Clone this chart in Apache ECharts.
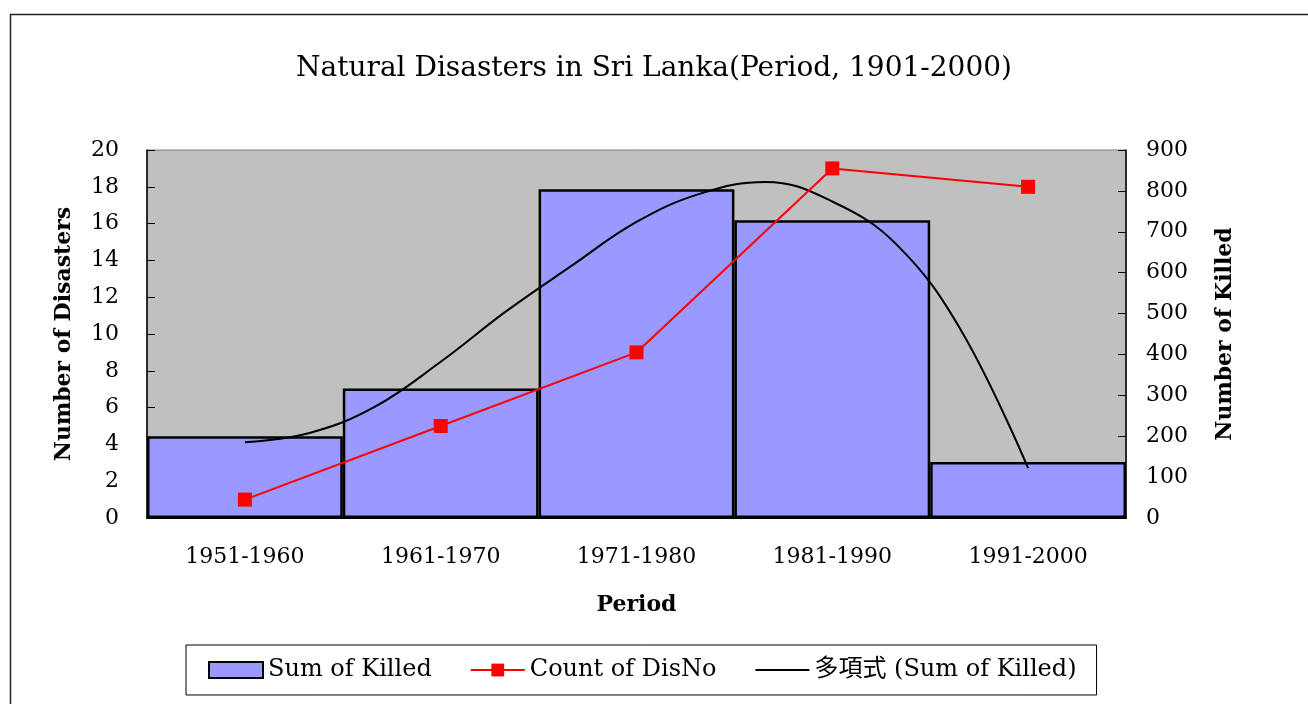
<!DOCTYPE html>
<html>
<head>
<meta charset="utf-8">
<script src="https://cdn.jsdelivr.net/npm/echarts@6/dist/echarts.min.js"></script>
<style>
  html, body { margin: 0; padding: 0; background: #fff; }
  #main { width: 1308px; height: 704px; }
</style>
</head>
<body>
<div id="main"></div>
<script>
// periods on the x axis
var periods = ['1951-1960', '1961-1970', '1971-1980', '1981-1990', '1991-2000'];
// Sum of Killed (right axis)
var killed = [200, 317, 804, 728, 137];
// Count of DisNo (left axis)
var disCount = [1, 5, 9, 19, 18];
// polynomial trend line: x in category units, y = killed
var trendX = [1.0, 1.33, 1.66, 2.0, 2.33, 2.66, 3.0, 3.33, 3.66, 4.0, 4.33, 4.66, 5.0];
var trendY = [185, 208, 271, 382, 504, 614, 724, 794, 822, 774, 668, 457, 122];

var serif = '"DejaVu Serif", "Noto Sans CJK TC", serif';
var trendData = trendX.map(function (x, i) { return [x, trendY[i]]; });

var chart = echarts.init(document.getElementById('main'));

var option = {
  backgroundColor: '#fff',
  animation: false,
  textStyle: { fontFamily: serif, color: '#000' },
  title: {
    text: 'Natural Disasters in Sri Lanka(Period, 1901-2000)',
    left: 'center',
    top: 50,
    textStyle: { fontFamily: serif, fontSize: 28, fontWeight: 'normal', color: '#000' }
  },
  graphic: [{
    type: 'rect',
    shape: { x: 10.5, y: 14.5, width: 1400, height: 800 },
    style: { fill: 'none', stroke: '#222', lineWidth: 1.5 },
    silent: true
  }],
  legend: {
    left: 186,
    top: 645,
    padding: [13, 20, 13, 22],
    itemGap: 38,
    itemWidth: 54,
    itemHeight: 16,
    borderColor: '#000',
    borderWidth: 1,
    textStyle: { fontFamily: serif, fontSize: 24, color: '#000' },
    data: [
      { name: 'Sum of Killed', icon: 'rect' },
      'Count of DisNo',
      { name: '多項式 (Sum of Killed)', itemStyle: { opacity: 0 } }
    ]
  },
  grid: {
    left: 147,
    right: 182,
    top: 150,
    bottom: 186,
    show: true,
    backgroundColor: '#c0c0c0',
    borderColor: '#808080',
    borderWidth: 1
  },
  xAxis: [{
    type: 'category',
    data: periods,
    boundaryGap: true,
    axisLine: { lineStyle: { color: '#000', width: 2 } },
    axisTick: { show: false },
    axisLabel: { fontFamily: serif, fontSize: 22, color: '#000', margin: 28 },
    name: 'Period',
    nameLocation: 'middle',
    nameGap: 76,
    nameTextStyle: { fontFamily: serif, fontSize: 22, fontWeight: 'bold', color: '#000' }
  }, {
    type: 'value',
    min: 0.5,
    max: 5.5,
    show: false
  }],
  yAxis: [{
    type: 'value',
    min: 0,
    max: 20,
    interval: 2,
    axisLine: { show: true, lineStyle: { color: '#000', width: 1.5 } },
    axisTick: { show: true, inside: true, length: 8, lineStyle: { color: '#000' } },
    splitLine: { show: false },
    axisLabel: { fontFamily: serif, fontSize: 22, color: '#000', margin: 28 },
    name: 'Number of Disasters',
    nameLocation: 'middle',
    nameGap: 72,
    nameTextStyle: { fontFamily: serif, fontSize: 22, fontWeight: 'bold', color: '#000' }
  }, {
    type: 'value',
    min: 0,
    max: 900,
    interval: 100,
    position: 'right',
    axisLine: { show: true, lineStyle: { color: '#000', width: 1.5 } },
    axisTick: { show: true, inside: true, length: 8, lineStyle: { color: '#000' } },
    splitLine: { show: false },
    axisLabel: { fontFamily: serif, fontSize: 22, color: '#000', margin: 20 },
    name: 'Number of Killed',
    nameLocation: 'middle',
    nameGap: 88,
    nameTextStyle: { fontFamily: serif, fontSize: 22, fontWeight: 'bold', color: '#000' }
  }],
  series: [{
    name: 'Sum of Killed',
    type: 'bar',
    xAxisIndex: 0,
    yAxisIndex: 1,
    data: killed,
    barCategoryGap: '0%',
    itemStyle: { color: '#9999ff', borderColor: '#000', borderWidth: 2.5 },
    z: 2
  }, {
    name: 'Count of DisNo',
    type: 'line',
    xAxisIndex: 0,
    yAxisIndex: 0,
    data: disCount,
    symbol: 'rect',
    symbolSize: 14,
    lineStyle: { color: '#ff0000', width: 2 },
    itemStyle: { color: '#ff0000' },
    z: 4
  }, {
    name: '多項式 (Sum of Killed)',
    type: 'line',
    xAxisIndex: 1,
    yAxisIndex: 1,
    data: trendData,
    smooth: 0.4,
    showSymbol: false,
    symbol: 'none',
    lineStyle: { color: '#000', width: 2 },
    itemStyle: { color: '#000' },
    z: 3
  }]
};

chart.setOption(option);
</script>
</body>
</html>
